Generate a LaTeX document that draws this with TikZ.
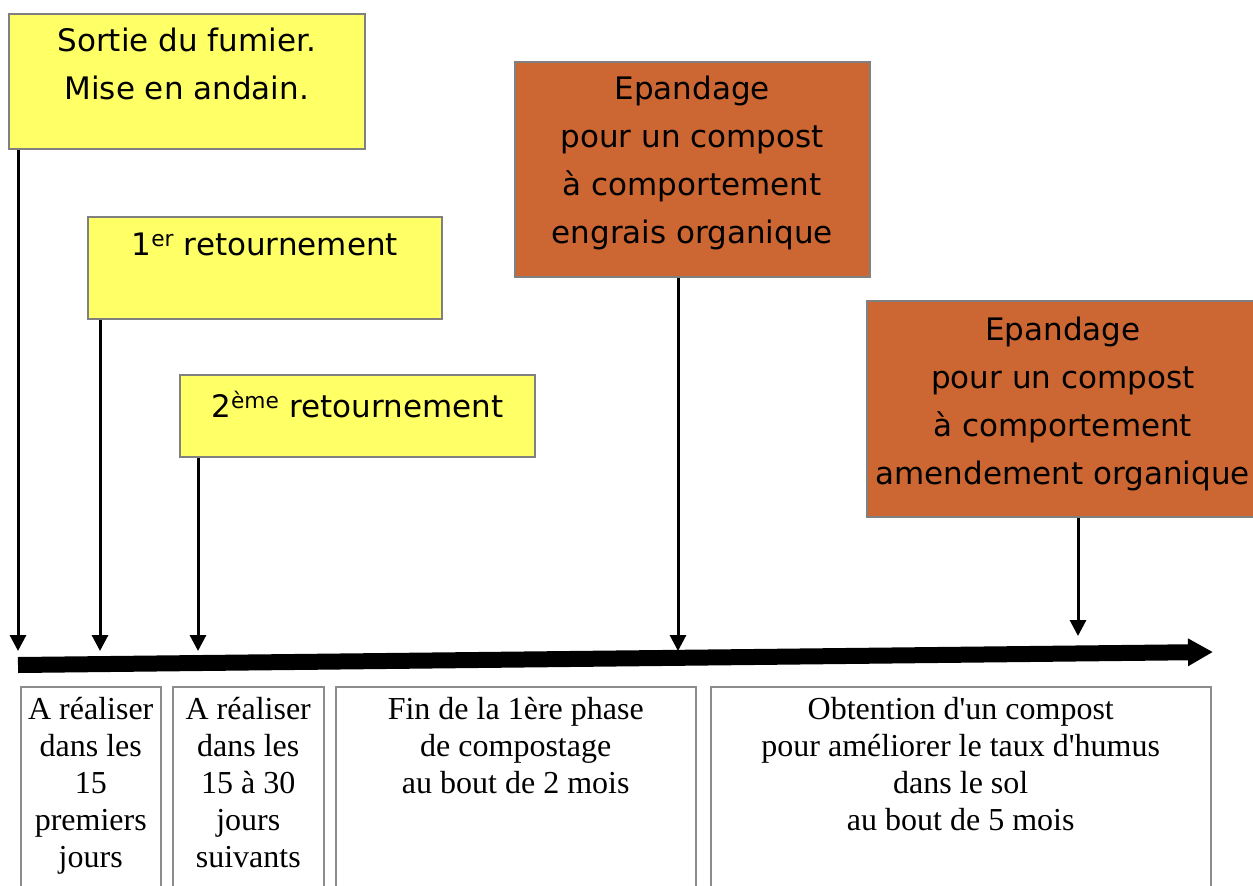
\documentclass[tikz,border=0pt]{standalone}
\usepackage{fontspec}
\newfontfamily\boxfont{DejaVu Sans}
\newfontfamily\notefont[Ligatures=TeXOff]{Liberation Serif}
\usetikzlibrary{positioning,arrows.meta}
\definecolor{fumieryellow}{RGB}{255,255,102}
\definecolor{compostorange}{RGB}{204,102,51}
\begin{document}
\begin{tikzpicture}[x=1pt,y=-1pt,
    event box/.style={draw=black!50,line width=1.5pt,fill=fumieryellow,inner sep=0pt,anchor=north west},
    spread box/.style={event box,fill=compostorange},
    event text/.style={font=\boxfont\fontsize{31}{48}\selectfont,align=center,inner sep=0pt},
    note box/.style={draw=black!45,line width=1.5pt,inner sep=0pt,anchor=north west},
    note text/.style={font=\notefont\fontsize{32}{37}\selectfont,align=center,inner sep=0pt},
    tick/.style={line width=3pt,-{Triangle[length=16pt,width=16pt]}}]

    \useasboundingbox (0,0) rectangle (1253,886);

    \node[event box,minimum width=356pt,minimum height=135pt] at (8,13) (sortie) {};
    \node[event text,below=15pt of sortie.north] (sortietxt) {Sortie du fumier.\\Mise en andain.};

    \node[event box,minimum width=354pt,minimum height=102pt] at (87,216) (ret1) {};
    \node[event text,below=17pt of ret1.north] (ret1txt) {1\textsuperscript{er} retournement};

    \node[event box,minimum width=355pt,minimum height=82pt] at (179,374) (ret2) {};
    \node[event text,below=17pt of ret2.north] (ret2txt) {2\textsuperscript{ème} retournement};

    \node[spread box,minimum width=355pt,minimum height=215pt] at (514,61) (engrais) {};
    \node[event text,below=15pt of engrais.north] (engraistxt) {Epandage\\pour un compost\\à comportement\\engrais organique};

    \node[spread box,minimum width=392pt,minimum height=216pt] at (866,300) (amend) {};
    \node[event text,below=17pt of amend.north] (amendtxt) {Epandage\\pour un compost\\à comportement\\amendement organique};

    \coordinate (t1) at (18,651);
    \coordinate (t2) at (100,651);
    \coordinate (t3) at (198,651);
    \coordinate (t4) at (678,651);
    \coordinate (t5) at (1078,636);

    \path[tick] (sortie.south -| t1) edge (t1)
                (ret1.south -| t2) edge (t2)
                (ret2.south -| t3) edge (t3)
                (engrais.south -| t4) edge (t4)
                (amend.south -| t5) edge (t5);

    \coordinate (a0) at (18,665);
    \coordinate (a1) at (1213,652);
    \draw[line width=16pt,-{Triangle[length=25pt,width=26pt]}] (a0) -- (a1);

    \node[note box,minimum width=140pt,minimum height=215pt] at (20,686) (n1) {};
    \node[note text,below=11pt of n1.north] (n1txt) {A réaliser\\dans les\\15\\premiers\\jours};

    \node[note box,minimum width=151pt,minimum height=215pt] at (172,686) (n2) {};
    \node[note text,below=11pt of n2.north] (n2txt) {A réaliser\\dans les\\15 à 30\\jours\\suivants};

    \node[note box,minimum width=360pt,minimum height=215pt] at (335,686) (n3) {};
    \node[note text,below=11pt of n3.north] (n3txt) {Fin de la 1ère phase\\de compostage\\au bout de 2 mois};

    \node[note box,minimum width=500pt,minimum height=215pt] at (710,686) (n4) {};
    \node[note text,below=11pt of n4.north] (n4txt) {Obtention d'un compost\\pour améliorer le taux d'humus\\dans le sol\\au bout de 5 mois};
\end{tikzpicture}
\end{document}
